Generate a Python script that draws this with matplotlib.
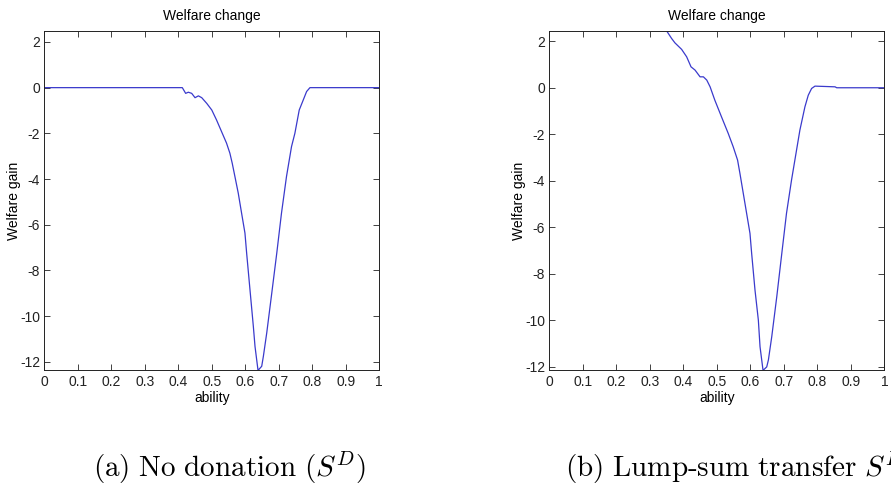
import numpy as np
import matplotlib.pyplot as plt

plt.rcParams['font.family'] = ['Liberation Sans Narrow', 'Liberation Sans', 'DejaVu Sans']
plt.rcParams['mathtext.fontset'] = 'cm'
plt.rcParams['axes.unicode_minus'] = False

# (a) no donation
ability_a = [0.0, 0.412, 0.422, 0.43, 0.44, 0.45, 0.46, 0.47, 0.485, 0.5, 0.514,
             0.529, 0.544, 0.554, 0.561, 0.569, 0.579, 0.589, 0.599, 0.604, 0.614,
             0.624, 0.629, 0.638, 0.649, 0.654, 0.664, 0.679, 0.694, 0.708, 0.723,
             0.738, 0.748, 0.761, 0.773, 0.783, 0.793, 1.0]
gain_a = [0.0, 0.0, -0.25, -0.2, -0.25, -0.44, -0.36, -0.44, -0.69, -0.98, -1.41,
          -1.92, -2.43, -2.87, -3.31, -3.89, -4.62, -5.5, -6.37, -7.24, -8.85,
          -10.45, -11.33, -12.38, -12.2, -11.76, -10.74, -9.0, -7.24, -5.5, -3.89,
          -2.58, -2.0, -0.98, -0.54, -0.17, 0.0, 0.0]

# (b) lump-sum transfer
ability_b = [0.35, 0.365, 0.375, 0.395, 0.41, 0.423, 0.435, 0.45, 0.46, 0.47, 0.48,
             0.494, 0.514, 0.534, 0.549, 0.562, 0.569, 0.579, 0.589, 0.599, 0.604,
             0.614, 0.624, 0.629, 0.638, 0.649, 0.654, 0.664, 0.679, 0.694, 0.708,
             0.723, 0.738, 0.748, 0.763, 0.773, 0.783, 0.793, 0.853, 0.858, 1.0]
gain_b = [2.45, 2.12, 1.93, 1.65, 1.33, 0.9, 0.76, 0.47, 0.47, 0.33, 0.04,
          -0.53, -1.25, -1.96, -2.54, -3.11, -3.68, -4.54, -5.4, -6.26, -7.12,
          -8.7, -9.99, -11.13, -12.15, -12.0, -11.7, -10.7, -8.98, -7.12, -5.4,
          -3.97, -2.68, -1.82, -0.82, -0.32, -0.03, 0.07, 0.04, 0.0, 0.0]

xticks = np.round(np.arange(0, 1.01, 0.1), 1)
xticklabels = ['0', '0.1', '0.2', '0.3', '0.4', '0.5', '0.6', '0.7', '0.8', '0.9', '1']
yticks = [2, 0, -2, -4, -6, -8, -10, -12]

fig = plt.figure(figsize=(8.91, 4.88), dpi=100)

panels = [
    (0.0497, ability_a, gain_a, (-12.38, 2.47),
     r'$\mathrm{(a)\ No\ donation\ (}S^D\mathrm{)}$', 0.258, 'center'),
    (0.6165, ability_b, gain_b, (-12.15, 2.43),
     r'$\mathrm{(b)\ Lump\text{-}sum\ transfer\ }S^L$', 0.634, 'left'),
]

for left, x, y, ylim, caption, cx, ha in panels:
    ax = fig.add_axes([left, 0.241, 0.376, 0.695])
    ax.plot(x, y, color='#3a3acc', lw=0.9)
    ax.set_xlim(0, 1)
    ax.set_ylim(*ylim)
    ax.set_xticks(xticks)
    ax.set_xticklabels(xticklabels)
    ax.set_yticks(yticks)
    ax.tick_params(direction='in', top=True, right=True, length=4, width=0.6,
                   labelsize=10, pad=3, colors='#222222')
    for s in ax.spines.values():
        s.set_linewidth(0.7)
        s.set_color('#222222')
    ax.set_title('Welfare change', fontsize=10, pad=8)
    ax.set_xlabel('ability', fontsize=10, labelpad=2)
    ax.set_ylabel('Welfare gain', fontsize=10, labelpad=-1)
    # caption (b) runs off the right edge, as in the reference
    fig.text(cx, 0.004, caption, fontsize=21, ha=ha, va='bottom')

fig.savefig('out.png', dpi=100)
